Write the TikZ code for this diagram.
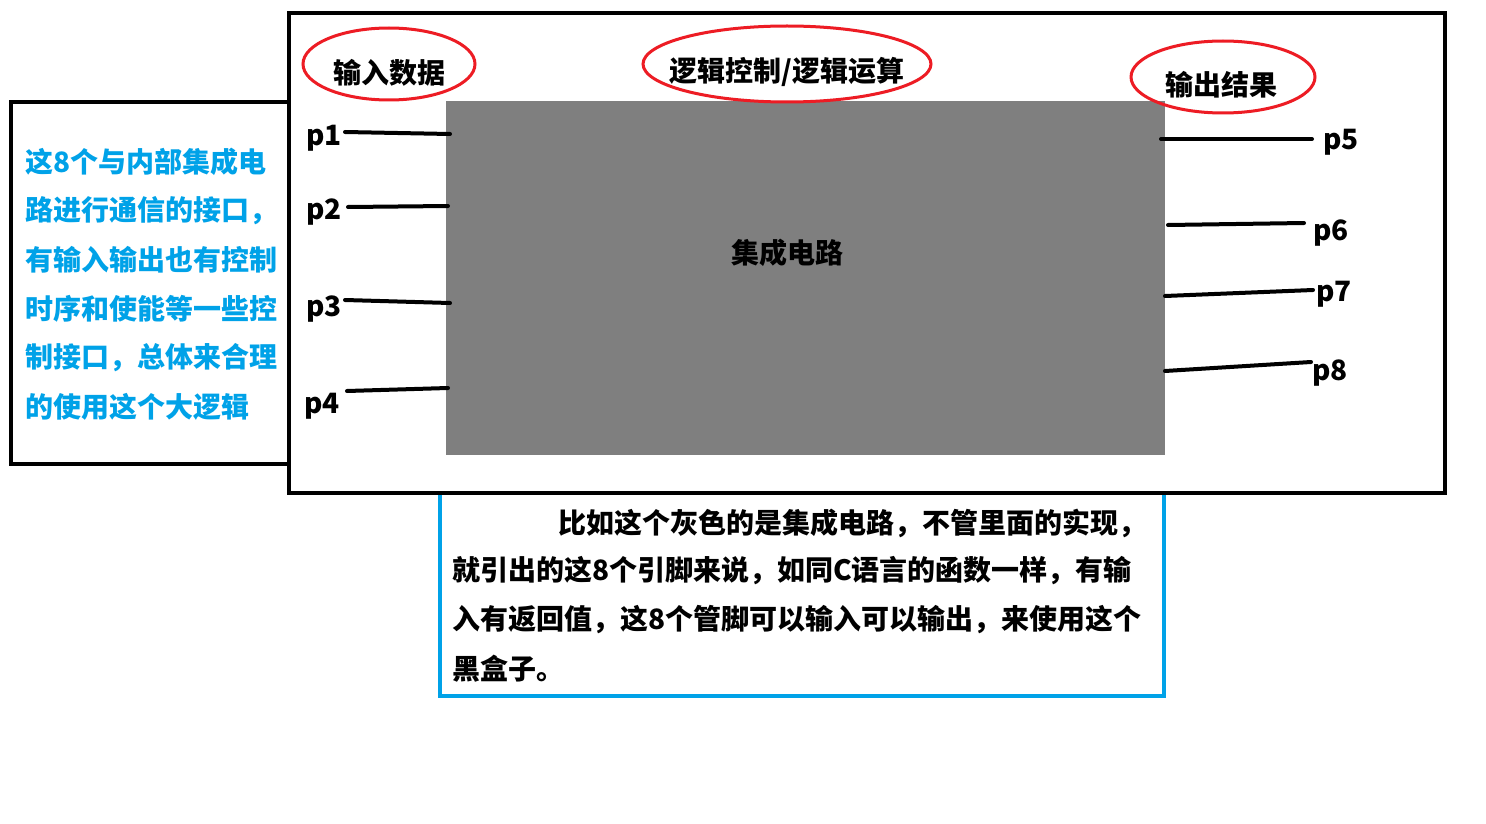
\documentclass[tikz,border=0pt]{standalone}
\usepackage{fontspec}
\setmainfont{Noto Sans CJK SC}
\definecolor{icgray}{RGB}{127,127,127}
\definecolor{pblue}{RGB}{0,162,232}
\definecolor{pred}{RGB}{237,28,36}
\begin{document}
\begin{tikzpicture}[x=1pt,y=-1pt,
  txt/.style={font=\fontsize{28}{34}\selectfont\bfseries, inner sep=0pt},
  bluetxt/.style={txt, text=pblue, anchor=west},
  boxbase/.style={inner sep=0pt, outer sep=0pt, anchor=north west},
  frame/.style={boxbase, draw=black, line width=4pt},
  oval/.style={draw=pred, line width=3pt},
  pinline/.style={draw=black, line width=4pt, line cap=round}]
\useasboundingbox (0,0) rectangle (1486,824);
\fill[white] (0,0) rectangle (1486,824);
% bottom note box
\node[boxbase, draw=pblue, line width=3.5pt, minimum width=724pt, minimum height=203pt] (note) at (440,493) {};
% main frame
\node[frame, minimum width=1156pt, minimum height=480pt] (main) at (289,13) {};
% left note box
\node[frame, minimum width=278pt, minimum height=362pt] (side) at (11,102) {};
% gray IC
\node[boxbase, fill=icgray, minimum width=719pt, minimum height=354pt] (ic) at (446,101) {};
\node[txt] (ictxt) at (787,253) {集成电路};
% ellipses
\draw[oval] (389,64) ellipse [x radius=86pt, y radius=36pt];
\draw[oval] (787,64) ellipse [x radius=144pt, y radius=38pt];
\draw[oval] (1223,77) ellipse [x radius=92pt, y radius=36pt];
\node[txt] (in) at (389,73) {输入数据};
\node[txt] (ctl) at (787,72) {逻辑控制/逻辑运算};
\node[txt] (out) at (1221,85) {输出结果};
% pins
\coordinate (p1a) at (345,132); \coordinate (p1b) at (450,134);
\coordinate (p2a) at (348,207); \coordinate (p2b) at (448,206);
\coordinate (p3a) at (345,300); \coordinate (p3b) at (450,303);
\coordinate (p4a) at (347,391); \coordinate (p4b) at (448,388);
\coordinate (p5a) at (1161,139); \coordinate (p5b) at (1312,139);
\coordinate (p6a) at (1168,225); \coordinate (p6b) at (1304,223);
\coordinate (p7a) at (1165,296); \coordinate (p7b) at (1313,290);
\coordinate (p8a) at (1165,371); \coordinate (p8b) at (1311,362);
\foreach \i in {1,...,8}{\draw[pinline] (p\i a) -- (p\i b);}
\node[txt] (l1) at (324,138) {p1};
\node[txt] (l2) at (324,212) {p2};
\node[txt] (l3) at (324,309) {p3};
\node[txt] (l4) at (322,406) {p4};
\node[txt] (l5) at (1341,142) {p5};
\node[txt] (l6) at (1331,233) {p6};
\node[txt] (l7) at (1334,294) {p7};
\node[txt] (l8) at (1330,373) {p8};
% left text
\node[bluetxt] (s1) at (25,162) {这8个与内部集成电};
\node[bluetxt] (s2) at (25,211) {路进行通信的接口，};
\node[bluetxt] (s3) at (25,260) {有输入输出也有控制};
\node[bluetxt] (s4) at (25,309) {时序和使能等一些控};
\node[bluetxt] (s5) at (25,358) {制接口，总体来合理};
\node[bluetxt] (s6) at (25,407) {的使用这个大逻辑};
% bottom text
\node[txt, anchor=west] (b1) at (558,523) {比如这个灰色的是集成电路，不管里面的实现，};
\node[txt, anchor=west] (b2) at (452,571) {就引出的这8个引脚来说，如同C语言的函数一样，有输};
\node[txt, anchor=west] (b3) at (452,620) {入有返回值，这8个管脚可以输入可以输出，来使用这个};
\node[txt, anchor=west] (b4) at (452,669) {黑盒子。};
\end{tikzpicture}
\end{document}
